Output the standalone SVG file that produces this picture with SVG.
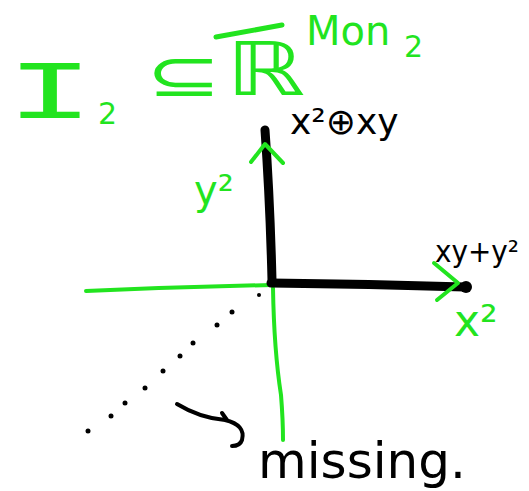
<svg xmlns="http://www.w3.org/2000/svg" width="529" height="491" viewBox="0 0 529 491">
<style>
.g{fill:#22e41f;font-family:"DejaVu Sans",sans-serif}
.k{fill:#000;font-family:"DejaVu Sans",sans-serif}
.gs{stroke:#22e41f;fill:none;stroke-linecap:round;stroke-linejoin:round}
.ks{stroke:#000;fill:none;stroke-linecap:round;stroke-linejoin:round}
</style>
<rect width="529" height="491" fill="#fff"/>
<g id="title">
<text class="g" style="font-family:'Liberation Mono',monospace" font-size="84" transform="translate(6 118) scale(1.75 1)">I</text>
<text class="g" x="98" y="124" font-size="30">2</text>
<text class="g" font-size="60" transform="translate(146 96) scale(1.5 1)">⊆</text>
<text class="g" font-size="74" transform="translate(226 95) scale(1.35 1)">ℝ</text>
<path class="gs" stroke-width="5" d="M216 37 L282 25"/>
<text class="g" x="306" y="45" font-size="40">Mon</text>
<text class="g" x="404" y="57" font-size="30">2</text>
</g>
<g id="connectors">
<path class="gs" stroke-width="4" d="M86 291 Q180 287 272 285"/>
<path class="gs" stroke-width="4" d="M273 288 Q274 350 281 395 Q283 420 283 440"/>
<path class="ks" stroke-width="9" d="M265 130 Q270 200 272 280"/>
<path class="ks" stroke-width="9" d="M271 283 Q370 284 465 287"/>
<circle cx="466" cy="287" r="6" fill="#000"/>
<path class="gs" stroke-width="4" d="M251 162 L265 144 L283 163"/>
<path class="gs" stroke-width="4" d="M434 263 L458 283 L437 300"/>
<g fill="#000">
<circle cx="259" cy="295" r="2"/><circle cx="232" cy="312" r="2.5"/><circle cx="217" cy="325" r="2.5"/>
<circle cx="193" cy="343" r="2.5"/><circle cx="180" cy="356" r="2.5"/><circle cx="163" cy="371" r="2.5"/>
<circle cx="145" cy="388" r="2.5"/><circle cx="125" cy="403" r="2.5"/><circle cx="111" cy="416" r="2.5"/>
<circle cx="88" cy="431" r="2.5"/>
</g>
<path class="ks" stroke-width="4" d="M177 404 Q200 418 225 420 Q246 425 242 440 Q240 446 232 446 M222 413 L227 420"/>
</g>
<g id="label-x2xy"><text class="k" x="290" y="134" font-size="36">x²⊕xy</text></g>
<g id="label-y2"><text class="g" x="194" y="204" font-size="40">y²</text></g>
<g id="label-xyy2"><text class="k" x="435" y="262" font-size="30" textLength="84" lengthAdjust="spacingAndGlyphs">xy+y²</text></g>
<g id="label-x2"><text class="g" x="454" y="336" font-size="44">x²</text></g>
<g id="label-missing"><text class="k" x="258" y="478" font-size="50">missing.</text></g>
</svg>
